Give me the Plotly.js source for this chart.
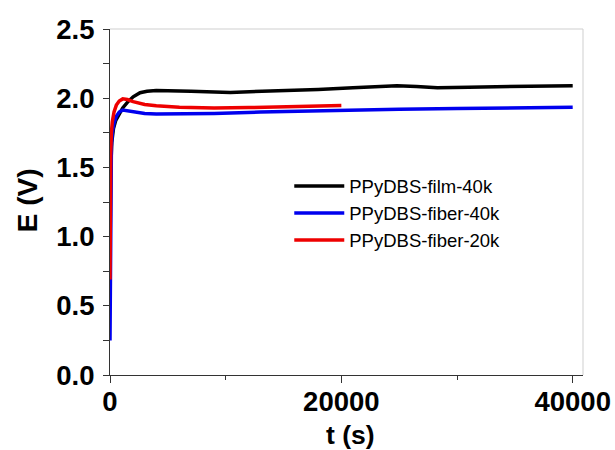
<!DOCTYPE html>
<html>
<head>
<meta charset="utf-8">
<script src="https://cdn.plot.ly/plotly-3.0.1.min.js"></script>
<style>html,body{margin:0;padding:0;background:#fff;}#chart{width:615px;height:450px;}</style>
</head>
<body>
<div id="chart"></div>
<script>
// Series names
var seriesNames = ["PPyDBS-film-40k", "PPyDBS-fiber-40k", "PPyDBS-fiber-20k"];

// PPyDBS-film-40k
var filmT = [0, 50, 150, 300, 500, 800, 1100, 1500, 2000, 2600, 3200, 4000, 5200, 7000, 10400, 14000, 18000, 21000, 24800, 26500, 28300, 31000, 34000, 37000, 40000];
var filmE = [0.75, 1.45, 1.68, 1.78, 1.84, 1.89, 1.93, 1.97, 2.01, 2.04, 2.05, 2.055, 2.055, 2.05, 2.042, 2.05, 2.063, 2.075, 2.09, 2.085, 2.075, 2.08, 2.085, 2.088, 2.09];

// PPyDBS-fiber-40k
var fiber40T = [0, 20, 60, 120, 200, 350, 550, 800, 1100, 1500, 2000, 3000, 4000, 6000, 9000, 13000, 17000, 21000, 25000, 30000, 35000, 40000];
var fiber40E = [0.25, 0.7, 1.4, 1.65, 1.75, 1.82, 1.87, 1.9, 1.915, 1.91, 1.9, 1.89, 1.885, 1.885, 1.89, 1.9, 1.908, 1.915, 1.92, 1.925, 1.93, 1.935];

// PPyDBS-fiber-20k
var fiber20T = [0, 20, 60, 120, 200, 350, 550, 800, 1100, 1500, 2000, 3000, 4000, 6000, 9000, 12000, 15000, 18000, 20000];
var fiber20E = [0.69, 1.3, 1.6, 1.75, 1.83, 1.9, 1.95, 1.98, 1.995, 1.99, 1.975, 1.955, 1.945, 1.935, 1.93, 1.932, 1.936, 1.942, 1.947];

// Axis ticks and titles
var xTickVals = [0, 20000, 40000];
var xTickText = ["0", "20000", "40000"];
var xMinorVals = [10000, 30000];
var xTitle = "t (s)";
var yTitle = "E (V)";

var colors = ["#000000", "#0000ee", "#ee0000"];

var font = "Arial, 'Liberation Sans', sans-serif";

var traces = [
  {x: filmT, y: filmE, name: seriesNames[0], mode: "lines", line: {color: colors[0], width: 3.5}},
  {x: fiber40T, y: fiber40E, name: seriesNames[1], mode: "lines", line: {color: colors[1], width: 3.5}},
  {x: fiber20T, y: fiber20E, name: seriesNames[2], mode: "lines", line: {color: colors[2], width: 3.5}}
];

var layout = {
  width: 615, height: 450,
  margin: {l: 110, r: 32, t: 28.5, b: 75},
  paper_bgcolor: "#ffffff", plot_bgcolor: "#ffffff",
  font: {family: font, color: "#000"},
  showlegend: true,
  legend: {
    x: 0.379, y: 0.6, xanchor: "left", yanchor: "top",
    bgcolor: "rgba(0,0,0,0)", borderwidth: 0,
    font: {size: 18.5, family: font, color: "#000"},
    itemwidth: 50, tracegroupgap: 0
  },
  xaxis: {
    range: [0, 40890], showgrid: false, zeroline: false,
    showline: true, linecolor: "#333", linewidth: 1,
    ticks: "outside", ticklen: 7, tickcolor: "#333", tickwidth: 1,
    tickvals: xTickVals, ticktext: xTickText,
    ticklabelstandoff: -5,
    tickfont: {size: 27.5, family: font, weight: "bold", color: "#000"},
    minor: {tickvals: xMinorVals, ticks: "outside", ticklen: 4, tickcolor: "#333"}
  },
  yaxis: {
    range: [0, 2.5], showgrid: false, zeroline: false,
    showline: true, linecolor: "#333", linewidth: 1,
    ticks: "outside", ticklen: 6, tickcolor: "#333", tickwidth: 1,
    dtick: 0.5, tick0: 0, tickformat: ".1f",
    ticklabelstandoff: 3,
    tickfont: {size: 27.5, family: font, weight: "bold", color: "#000"},
    minor: {dtick: 0.25, tick0: 0, ticks: "outside", ticklen: 6, tickcolor: "#333"}
  },
  annotations: [
    {text: "<b>" + xTitle + "</b>", xref: "paper", yref: "paper", x: 0.5095, y: -0.172,
     xanchor: "center", yanchor: "middle", showarrow: false,
     font: {size: 26.5, family: font, color: "#000"}},
    {text: "<b>" + yTitle + "</b>", xref: "paper", yref: "paper", x: -0.1755, y: 0.505,
     xanchor: "center", yanchor: "middle", showarrow: false, textangle: -90,
     font: {size: 28, family: font, color: "#000"}}
  ],
  shapes: [
    {type: "line", xref: "paper", yref: "paper", x0: 0, x1: 1, y0: 1, y1: 1, line: {color: "#cfcfcf", width: 1}},
    {type: "line", xref: "paper", yref: "paper", x0: 1, x1: 1, y0: 0, y1: 1, line: {color: "#cfcfcf", width: 1}}
  ]
};

Plotly.newPlot("chart", traces, layout, {displayModeBar: false, staticPlot: true});
</script>
</body>
</html>
